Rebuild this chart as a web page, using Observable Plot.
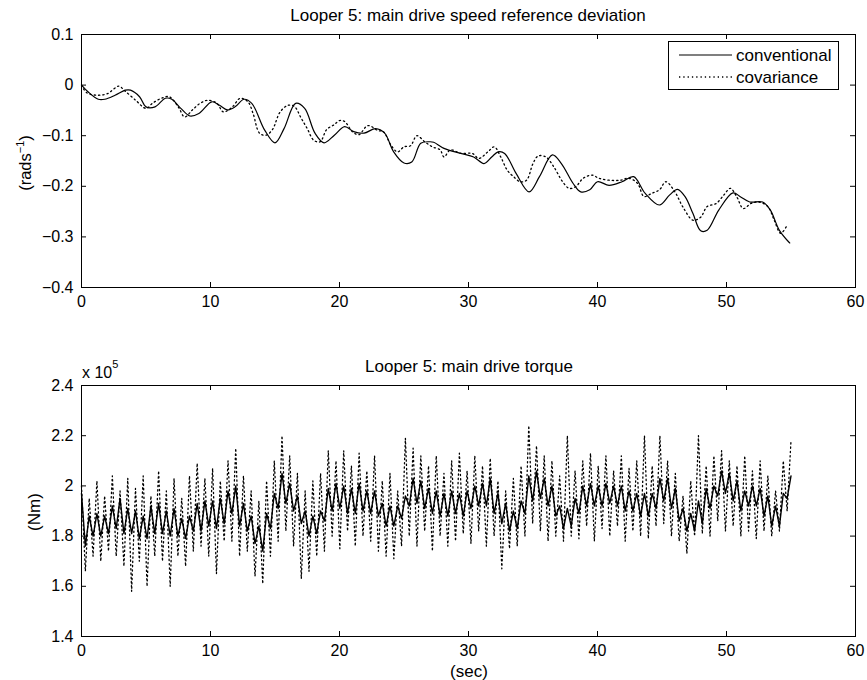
<!DOCTYPE html>
<html><head><meta charset="utf-8">
<script src="https://cdn.jsdelivr.net/npm/d3@7"></script>
<script src="https://cdn.jsdelivr.net/npm/@observablehq/plot@0.6"></script>
<style>
body{margin:0;background:#fff}
#wrap{width:867px;height:680px;position:relative;background:#fff}
svg{display:block}
</style>
</head><body><div id="wrap"></div>
<script>
// ---------- DATA ----------
const xTicks = [0, 10, 20, 30, 40, 50, 60];
const speedTicks = [0.1, 0, -0.1, -0.2, -0.3, -0.4];
const torqueTicks = [2.4, 2.2, 2.0, 1.8, 1.6, 1.4];
const seriesNames = ["conventional", "covariance"];

// Top panel: speed reference deviation (rad/s)
const speedConvT = [0,0.5,1.3,1.8,2.6,3.4,3.8,4.5,5.0,5.7,6.5,7.0,7.7,8.4,9.1,10.1,10.7,11.3,11.9,12.6,13.2,14.2,15.0,15.7,16.6,17.3,18.1,18.8,19.6,20.4,21.1,21.9,22.8,23.5,24.2,25.0,25.6,26.3,27.0,27.3,28.1,29.4,30.4,31.2,31.8,32.3,32.8,33.7,34.7,35.5,36.5,37.2,38.1,38.7,39.4,40.0,40.9,41.9,42.8,43.7,44.8,45.6,46.2,46.8,47.4,48.0,48.5,49.4,50.5,51.1,51.8,52.8,53.4,54.1,54.9];
const speedConvV = [0,-0.013,-0.028,-0.028,-0.02,-0.01,-0.01,-0.023,-0.043,-0.043,-0.026,-0.028,-0.046,-0.061,-0.056,-0.033,-0.04,-0.049,-0.043,-0.028,-0.036,-0.089,-0.114,-0.086,-0.036,-0.046,-0.095,-0.114,-0.099,-0.082,-0.092,-0.095,-0.086,-0.095,-0.132,-0.154,-0.152,-0.115,-0.112,-0.113,-0.125,-0.135,-0.142,-0.155,-0.142,-0.132,-0.135,-0.175,-0.211,-0.181,-0.138,-0.155,-0.194,-0.211,-0.207,-0.191,-0.198,-0.191,-0.181,-0.214,-0.237,-0.217,-0.206,-0.221,-0.254,-0.288,-0.287,-0.247,-0.213,-0.221,-0.231,-0.231,-0.247,-0.287,-0.312];
const speedCovT = [0,0.4,1.2,2.0,2.9,3.3,4.2,5.0,5.5,6.2,6.8,7.5,8.0,8.6,9.2,9.8,10.5,11.0,11.7,12.3,12.9,13.3,13.8,14.3,14.8,15.4,16.0,16.5,17.0,17.5,18.0,18.5,19.0,19.6,20.0,20.4,21.0,21.5,22.2,23.0,23.4,24.0,24.5,25.0,25.5,26.0,26.6,27.2,27.8,28.1,28.6,29.4,30.3,30.8,31.5,32.0,32.5,33.0,33.5,34.0,34.5,35.0,35.4,36.0,36.6,37.3,37.8,38.3,38.9,39.6,40.1,40.9,41.8,42.4,43.1,43.6,44.2,44.8,45.3,46.0,46.6,47.4,48.0,48.5,49.2,49.8,50.3,50.8,51.3,51.9,52.5,53.2,53.7,54.2,54.7];
const speedCovV = [0,-0.015,-0.02,-0.017,-0.002,-0.01,-0.03,-0.046,-0.036,-0.026,-0.023,-0.043,-0.063,-0.049,-0.036,-0.03,-0.036,-0.053,-0.043,-0.026,-0.033,-0.056,-0.095,-0.099,-0.088,-0.053,-0.04,-0.042,-0.064,-0.086,-0.109,-0.112,-0.088,-0.078,-0.07,-0.072,-0.092,-0.098,-0.08,-0.09,-0.092,-0.119,-0.132,-0.122,-0.12,-0.1,-0.112,-0.122,-0.128,-0.142,-0.128,-0.135,-0.135,-0.145,-0.132,-0.122,-0.142,-0.168,-0.181,-0.191,-0.188,-0.155,-0.14,-0.142,-0.161,-0.191,-0.204,-0.201,-0.184,-0.178,-0.184,-0.188,-0.188,-0.184,-0.194,-0.22,-0.214,-0.207,-0.191,-0.211,-0.24,-0.267,-0.261,-0.24,-0.234,-0.217,-0.204,-0.221,-0.244,-0.234,-0.231,-0.24,-0.267,-0.293,-0.277];

// Bottom panel: main drive torque (x 10^5 Nm), sampled over 0..55 s
const torqueEnd = 55;
const torqueConv = [1.97,1.76,1.88,1.80,1.89,1.80,1.88,1.81,1.92,1.83,1.95,1.81,1.91,1.81,1.90,1.79,1.88,1.79,1.92,1.81,
1.93,1.81,1.90,1.80,1.91,1.80,1.87,1.79,1.88,1.82,1.93,1.82,1.94,1.84,1.94,1.83,1.95,1.85,1.98,1.89,
2.00,1.84,1.93,1.82,1.88,1.77,1.84,1.74,1.89,1.83,1.97,1.91,2.05,1.93,2.01,1.90,1.96,1.85,1.90,1.80,
1.88,1.81,1.90,1.86,1.99,1.90,2.01,1.91,2.00,1.89,1.99,1.89,2.01,1.90,1.98,1.89,1.98,1.88,1.93,1.84,
1.92,1.84,1.92,1.87,1.96,1.92,2.03,1.93,2.02,1.91,1.99,1.89,1.98,1.88,1.97,1.88,1.98,1.89,1.97,1.88,
1.98,1.91,2.00,1.92,2.01,1.92,2.03,1.89,1.97,1.85,1.93,1.82,1.90,1.83,1.94,1.89,2.04,1.94,2.06,1.95,
2.03,1.92,2.00,1.88,1.92,1.83,1.91,1.84,1.95,1.89,2.00,1.92,2.01,1.92,2.00,1.92,2.01,1.93,2.00,1.92,
2.00,1.90,1.98,1.90,1.97,1.88,1.97,1.88,1.97,1.91,2.03,1.94,2.03,1.91,1.99,1.86,1.91,1.82,1.89,1.82,
1.94,1.85,1.99,1.91,2.00,1.96,2.06,1.97,2.05,1.94,2.02,1.90,1.98,1.92,2.00,1.92,1.99,1.88,1.96,1.84,
1.92,1.84,1.97,1.95,2.04];
const torqueCov = [2.00,1.66,1.95,1.72,2.02,1.70,1.96,1.74,2.04,1.72,1.98,1.68,2.03,1.58,1.99,1.70,2.04,1.60,1.96,1.72,
2.06,1.70,1.98,1.60,2.03,1.72,1.95,1.68,2.04,1.74,2.09,1.76,2.03,1.72,2.07,1.65,2.02,1.78,2.10,1.78,
2.15,1.72,2.04,1.74,1.98,1.64,1.94,1.61,2.02,1.72,2.10,1.78,2.20,1.82,2.12,1.76,2.05,1.63,1.98,1.66,
2.02,1.72,2.05,1.74,2.14,1.80,2.10,1.75,2.14,1.82,2.08,1.76,2.13,1.80,2.06,1.78,2.12,1.74,2.02,1.72,
2.05,1.71,1.98,1.76,2.19,1.80,2.15,1.76,2.12,1.82,2.08,1.74,2.12,1.80,2.05,1.76,2.10,1.78,2.13,1.81,
2.06,1.77,2.12,1.82,2.08,1.76,2.11,1.80,2.02,1.67,1.98,1.75,2.03,1.76,2.08,1.80,2.24,1.85,2.16,1.82,
2.12,1.78,2.10,1.80,2.04,1.78,2.20,1.80,2.06,1.79,2.10,1.84,2.13,1.78,2.08,1.83,2.12,1.80,2.06,1.84,
2.12,1.78,2.07,1.82,2.10,1.80,2.20,1.79,2.08,1.84,2.20,1.85,2.10,1.80,2.05,1.78,1.96,1.73,2.02,1.80,
2.20,1.81,2.08,1.80,2.12,1.86,2.14,1.82,2.10,1.84,2.08,1.80,2.12,1.82,2.06,1.79,2.10,1.82,2.04,1.80,
1.98,1.82,2.10,1.90,2.18];

// ---------- BUILD ----------
const FONT = "'Liberation Sans', Arial, Helvetica, sans-serif";
const W = 867, ML = 81, MR = 12;
const minusFmt = d => d < 0 ? "\u2212" + Math.abs(d) : String(d);

const speedConv = speedConvT.map((t, i) => ({t, v: speedConvV[i]}));
const speedCov = speedCovT.map((t, i) => ({t, v: speedCovV[i]}));
const dt = torqueEnd / (torqueConv.length - 1);
const torqueConvData = torqueConv.map((v, i) => ({t: i * dt, v}));
const torqueCovData = torqueCov.map((v, i) => ({t: i * dt, v}));

function panel({height, mt, mb, yDomain, yTicks, conv, cov, curve, convWidth}) {
  const fh = height - mt - mb, fw = W - ML - MR, tl = 5;
  return Plot.plot({
    width: W, height, marginTop: mt, marginBottom: mb, marginLeft: ML, marginRight: MR,
    style: {fontFamily: FONT, fontSize: "16px", background: "white", color: "black"},
    x: {domain: [0, 60], ticks: xTicks, tickSize: 0, tickPadding: 8, label: null, tickFormat: minusFmt},
    y: {domain: yDomain, ticks: yTicks, tickSize: 0, tickPadding: 8, label: null, tickFormat: minusFmt},
    marks: [
      Plot.line(cov, {x: "t", y: "v", stroke: "black", strokeWidth: 1.3, strokeDasharray: "1.3,3", curve}),
      Plot.line(conv, {x: "t", y: "v", stroke: "black", strokeWidth: convWidth, curve}),
      Plot.tickX(xTicks, {x: d => d, insetTop: fh - tl, stroke: "black"}),
      Plot.tickX(xTicks, {x: d => d, insetBottom: fh - tl, stroke: "black"}),
      Plot.tickY(yTicks, {y: d => d, insetRight: fw - tl, stroke: "black"}),
      Plot.tickY(yTicks, {y: d => d, insetLeft: fw - tl, stroke: "black"}),
      Plot.frame({stroke: "black", strokeWidth: 1})
    ]
  });
}

function label(sel, x, y, size, txt, anchor = "middle") {
  return sel.append("text").attr("x", x).attr("y", y).attr("text-anchor", anchor)
    .attr("font-size", size).attr("font-family", FONT).attr("fill", "black").text(txt);
}

const wrap = document.getElementById("wrap");

// Top
const topSvg = panel({height: 340, mt: 34, mb: 53, yDomain: [-0.4, 0.1], yTicks: speedTicks,
  conv: speedConv, cov: speedCov, curve: "catmull-rom", convWidth: 1.2});
wrap.appendChild(topSvg);
const st = d3.select(topSvg);
label(st, 468, 21, 17, "Looper 5: main drive speed reference deviation");
const yl = st.append("text").attr("transform", "translate(31,163) rotate(-90)").attr("text-anchor", "middle")
  .attr("font-size", 16.5).attr("font-family", FONT);
yl.append("tspan").text("(rads");
yl.append("tspan").attr("dy", -7).attr("font-size", 11).text("\u22121");
yl.append("tspan").attr("dy", 7).text(")");
// legend
const lg = st.append("g");
lg.append("rect").attr("x", 668.5).attr("y", 41.5).attr("width", 170).attr("height", 48)
  .attr("fill", "white").attr("stroke", "black");
lg.append("line").attr("x1", 679).attr("x2", 732).attr("y1", 55).attr("y2", 55).attr("stroke", "black").attr("stroke-width", 1.2);
lg.append("line").attr("x1", 679).attr("x2", 732).attr("y1", 77).attr("y2", 77).attr("stroke", "black")
  .attr("stroke-width", 1.3).attr("stroke-dasharray", "1.3,3");
label(lg, 736, 61, 17, seriesNames[0], "start");
label(lg, 736, 83, 17, seriesNames[1], "start");

// Bottom
const botSvg = panel({height: 340, mt: 45, mb: 44, yDomain: [1.4, 2.4], yTicks: torqueTicks,
  conv: torqueConvData, cov: torqueCovData, curve: "linear", convWidth: 1.4});
wrap.appendChild(botSvg);
const sb = d3.select(botSvg);
label(sb, 469, 32, 17, "Looper 5: main drive torque");
const ex = sb.append("text").attr("x", 82).attr("y", 38).attr("text-anchor", "start")
  .attr("font-size", 16).attr("font-family", FONT);
ex.append("tspan").text("x 10");
ex.append("tspan").attr("dy", -10).attr("font-size", 11).text("5");
sb.append("text").attr("transform", "translate(40,172) rotate(-90)").attr("text-anchor", "middle")
  .attr("font-size", 17).attr("font-family", FONT).text("(Nm)");
label(sb, 469, 337, 17, "(sec)");
</script>
</body></html>
